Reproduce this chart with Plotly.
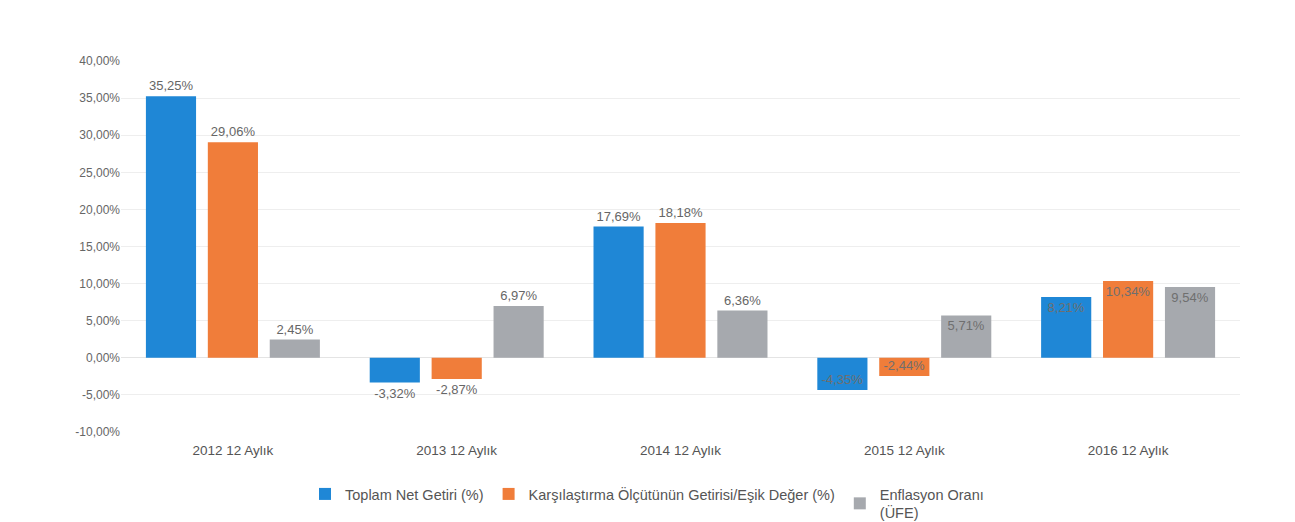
import plotly.graph_objects as go

categories = ["2012 12 Aylık", "2013 12 Aylık", "2014 12 Aylık", "2015 12 Aylık", "2016 12 Aylık"]
toplam = [35.25, -3.32, 17.69, -4.35, 8.21]
karsilastirma = [29.06, -2.87, 18.18, -2.44, 10.34]
enflasyon = [2.45, 6.97, 6.36, 5.71, 9.54]
series_names = ["Toplam Net Getiri (%)", "Karşılaştırma Ölçütünün Getirisi/Eşik Değer (%)", "Enflasyon Oranı<br>(ÜFE)"]
colors = ["#1f87d6", "#f07d3a", "#a6a9ae"]
tick_vals = [-10, -5, 0, 5, 10, 15, 20, 25, 30, 35, 40]
tick_text = ["-10,00%", "-5,00%", "0,00%", "5,00%", "10,00%", "15,00%", "20,00%", "25,00%", "30,00%", "35,00%", "40,00%"]


def fmt(v):
    return f"{v:.2f}".replace(".", ",") + "%"


fig = go.Figure()
for name, vals, col in zip(series_names, [toplam, karsilastirma, enflasyon], colors):
    positions = ["outside" if i < 3 else "inside" for i in range(len(vals))]
    fig.add_trace(go.Bar(
        x=categories, y=vals, name=name,
        marker=dict(color=col, line=dict(color=col, width=0)),
        text=[fmt(v) for v in vals],
        textposition=positions,
        insidetextanchor="end",
        constraintext="none",
        textfont=dict(size=14, color="#666666", family="Liberation Sans, Arial"),
        outsidetextfont=dict(size=14, color="#666666"),
        insidetextfont=dict(size=13, color="#6f6f6f"),
        cliponaxis=False,
        textangle=0,
    ))

fig.update_layout(
    barmode="group",
    bargap=0.17,
    bargroupgap=0.19,
    width=1295, height=522,
    margin=dict(l=113, r=63, t=53, b=98, autoexpand=False),
    paper_bgcolor="white",
    plot_bgcolor="white",
    font=dict(family="Liberation Sans, Arial", size=12, color="#666666"),
    uniformtext=dict(minsize=9, mode="show"),
    legend=dict(
        orientation="h", x=297 / 1295, xanchor="left", xref="container",
        y=(522 - 470) / 522, yanchor="top", yref="container",
        font=dict(size=14.5, color="#555555"),
        itemwidth=30, traceorder="normal",
    ),
    showlegend=True,
)
fig.update_xaxes(showgrid=False, showline=False, ticks="", automargin=False,
                 ticklabelstandoff=8,
                 tickfont=dict(size=13.5, color="#555555"))
fig.update_yaxes(
    range=[-10, 40], tickvals=tick_vals, ticktext=tick_text, automargin=False,
    showgrid=True, gridcolor="#eeeeee", gridwidth=1,
    zeroline=True, zerolinecolor="#e4e4e4", zerolinewidth=1,
    tickfont=dict(size=12, color="#666666"), ticks="", ticklen=0,
)

fig.write_html("out.html")
